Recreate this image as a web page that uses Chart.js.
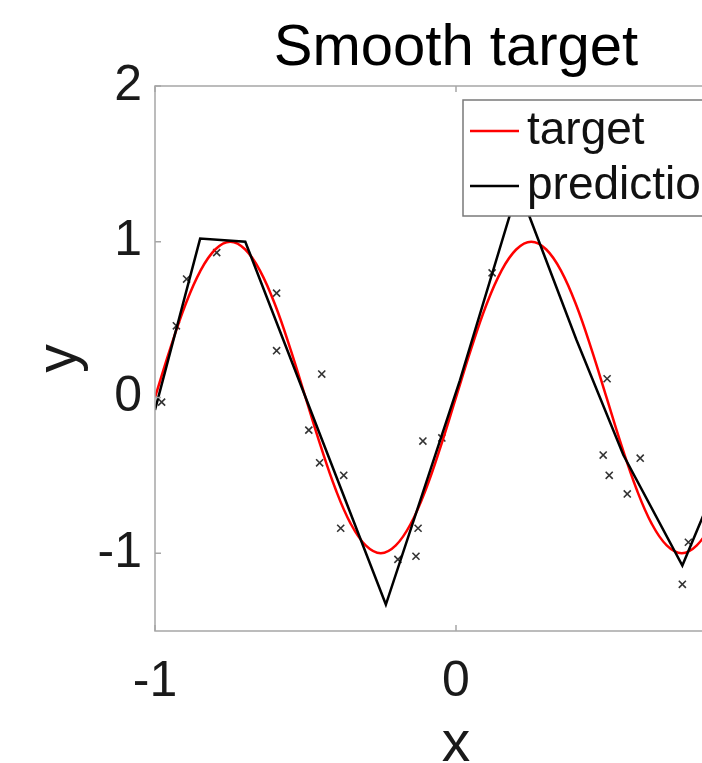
<!DOCTYPE html>
<html>
<head>
<meta charset="utf-8">
<title>Smooth target</title>
<script src="https://cdn.jsdelivr.net/npm/chart.js@4"></script>
<style>
  html, body { margin: 0; padding: 0; background: #fff; overflow: hidden; }
  #chart { display: block; }
</style>
</head>
<body>
<canvas id="chart" width="912" height="763"></canvas>
<script>
// target curve, every 0.05
const targetX = [-1, -0.95, -0.9, -0.85, -0.8, -0.75, -0.7, -0.65, -0.6, -0.55, -0.5,
  -0.45, -0.4, -0.35, -0.3, -0.25, -0.2, -0.15, -0.1, -0.05, 0,
  0.05, 0.1, 0.15, 0.2, 0.25, 0.3, 0.35, 0.4, 0.45, 0.5,
  0.55, 0.6, 0.65, 0.7, 0.75, 0.8, 0.85, 0.9, 0.95, 1];
const targetY = [0, 0.31, 0.59, 0.81, 0.95, 1, 0.95, 0.81, 0.59, 0.31, 0,
  -0.31, -0.59, -0.81, -0.95, -1, -0.95, -0.81, -0.59, -0.31, 0,
  0.31, 0.59, 0.81, 0.95, 1, 0.95, 0.81, 0.59, 0.31, 0,
  -0.31, -0.59, -0.81, -0.95, -1, -0.95, -0.81, -0.59, -0.31, 0];

// piecewise linear prediction (corners)
const predX = [-1, -0.85, -0.7, -0.233, 0.013, 0.207, 0.4, 0.556, 0.752, 0.86, 1];
const predY = [-0.08, 1.02, 1.0, -1.33, 0.11, 1.35, 0.37, -0.37, -1.08, -0.58, 0.02];

// noisy training samples
const sampleX = [-0.978, -0.929, -0.895, -0.795, -0.596, -0.596, -0.446, -0.489, -0.453, -0.373,
  -0.383, -0.193, -0.133, -0.126, -0.11, -0.047, 0.12, 0.502, 0.489, 0.509, 0.569, 0.612, 0.752, 0.772];
const sampleY = [-0.03, 0.46, 0.76, 0.93, 0.67, 0.30, 0.15, -0.21, -0.42, -0.50,
  -0.84, -1.04, -1.02, -0.84, -0.28, -0.26, 0.80, 0.12, -0.37, -0.50, -0.62, -0.39, -1.20, -0.93];

const xTicks = [-1, 0, 1];
const yTicks = [-1, 0, 1, 2];
const seriesNames = ["target", "prediction"];
const seriesColors = ["#ff0000", "#000000"];
const titleText = "Smooth target";

const toPoints = (xs, ys) => xs.map((x, i) => ({ x, y: ys[i] }));

const FONT = '"Liberation Sans", Arial, Helvetica, sans-serif';
Chart.defaults.font.family = FONT;
Chart.defaults.color = "#1a1a1a";

// box around the axes, inward ticks, title over the axes and the legend
const framePlugin = {
  id: "frame",
  afterDatasetsDraw(chart) {
    const { ctx, chartArea: a, scales } = chart;
    ctx.save();
    ctx.strokeStyle = "#a6a6a6";
    ctx.lineWidth = 1.5;
    ctx.strokeRect(a.left, a.top, a.right - a.left, a.bottom - a.top);
    ctx.beginPath();
    xTicks.forEach((v) => {
      const px = scales.x.getPixelForValue(v);
      ctx.moveTo(px, a.bottom); ctx.lineTo(px, a.bottom - 6);
      ctx.moveTo(px, a.top); ctx.lineTo(px, a.top + 6);
    });
    yTicks.forEach((v) => {
      const py = scales.y.getPixelForValue(v);
      ctx.moveTo(a.left, py); ctx.lineTo(a.left + 6, py);
      ctx.moveTo(a.right, py); ctx.lineTo(a.right - 6, py);
    });
    ctx.stroke();

    // title, centred on the axes box
    ctx.fillStyle = "#000";
    ctx.font = "58px " + FONT;
    ctx.textAlign = "center";
    ctx.textBaseline = "alphabetic";
    ctx.fillText(titleText, (a.left + a.right) / 2, a.top - 21);

    // legend
    const lx = a.right - 294, ly = a.top + 14;
    ctx.fillStyle = "#fff";
    ctx.fillRect(lx, ly, 276, 116);
    ctx.strokeStyle = "#7a7a7a";
    ctx.lineWidth = 1.5;
    ctx.strokeRect(lx, ly, 276, 116);
    ctx.font = "46px " + FONT;
    ctx.textAlign = "left";
    ctx.textBaseline = "middle";
    seriesNames.forEach((name, i) => {
      const y = ly + 31 + i * 55;
      ctx.strokeStyle = seriesColors[i];
      ctx.lineWidth = 2.5;
      ctx.beginPath();
      ctx.moveTo(lx + 7, y); ctx.lineTo(lx + 56, y);
      ctx.stroke();
      ctx.fillStyle = "#111";
      ctx.fillText(name, lx + 64, y);
    });
    ctx.restore();
  },
};

new Chart(document.getElementById("chart"), {
  type: "scatter",
  data: {
    datasets: [
      {
        label: seriesNames[1],
        data: toPoints(predX, predY),
        showLine: true,
        borderColor: seriesColors[1],
        borderWidth: 2.5,
        pointRadius: 0,
        tension: 0,
      },
      {
        label: seriesNames[0],
        data: toPoints(targetX, targetY),
        showLine: true,
        borderColor: seriesColors[0],
        borderWidth: 2.5,
        pointRadius: 0,
        tension: 0.4,
      },
      {
        label: "samples",
        data: toPoints(sampleX, sampleY),
        pointStyle: "crossRot",
        pointRadius: 5,
        borderWidth: 1.6,
        borderColor: "#333",
        backgroundColor: "#333",
      },
    ],
  },
  options: {
    responsive: false,
    animation: false,
    layout: { padding: { left: 0, right: 155, top: 86, bottom: 0 } },
    plugins: {
      legend: { display: false },
      tooltip: { enabled: false },
      title: { display: false },
    },
    scales: {
      x: {
        type: "linear",
        min: -1,
        max: 1,
        afterBuildTicks: (s) => { s.ticks = xTicks.map((v) => ({ value: v })); },
        afterFit: (s) => { s.height = 132; },
        grid: { display: false, drawTicks: false },
        border: { display: false },
        ticks: { padding: 21, font: { size: 50 }, maxRotation: 0, autoSkip: false },
        title: { display: true, text: "x", color: "#1a1a1a", font: { size: 57, lineHeight: 0.5 }, padding: 3 },
      },
      y: {
        type: "linear",
        min: -1.5,
        max: 2,
        afterBuildTicks: (s) => { s.ticks = yTicks.map((v) => ({ value: v })); },
        afterFit: (s) => { s.width = 155; },
        grid: { display: false, drawTicks: false },
        border: { display: false },
        ticks: { padding: 13, font: { size: 50 } },
        title: { display: true, text: "y", color: "#1a1a1a", font: { size: 57, lineHeight: 0.5 }, padding: 46 },
      },
    },
  },
  plugins: [framePlugin],
});
</script>
</body>
</html>
